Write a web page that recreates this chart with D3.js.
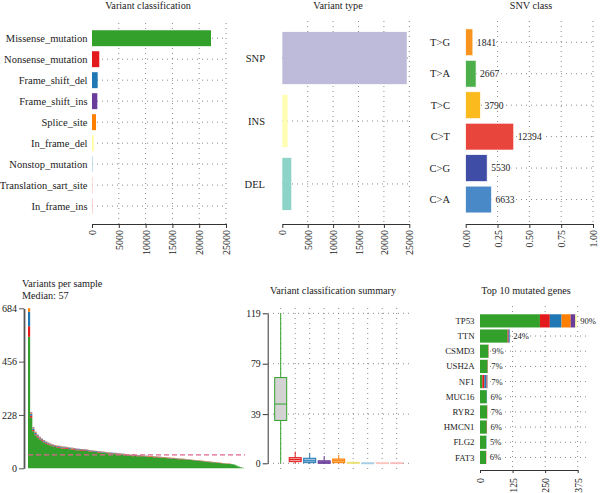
<!DOCTYPE html>
<html>
<head>
<meta charset="utf-8">
<script src="https://cdn.jsdelivr.net/npm/d3@7"></script>
<style>
  body { margin: 0; background: #fff; }
  svg { display: block; }
  svg text { font-family: 'Liberation Serif', 'DejaVu Serif', serif; }
</style>
</head>
<body>
<svg id="chart" width="600" height="493"></svg>
<script>
// ---- Data ----
const vcClasses = ['Missense_mutation', 'Nonsense_mutation', 'Frame_shift_del', 'Frame_shift_ins',
  'Splice_site', 'In_frame_del', 'Nonstop_mutation', 'Translation_sart_site', 'In_frame_ins'];
const vcCounts = [22200, 1360, 1060, 990, 750, 310, 30, 45, 25];
const vcTicks = [0, 5000, 10000, 15000, 20000, 25000];

const vtTypes = ['SNP', 'INS', 'DEL'];
const vtCounts = [24500, 1060, 1770];

const snvClasses = ['T>G', 'T>A', 'T>C', 'C>T', 'C>G', 'C>A'];
const snvCounts = [1841, 2667, 3790, 12394, 5530, 6633];
const snvTicks = [0, 0.25, 0.5, 0.75, 1];

// variants per sample, sorted (one step per sample group)
const sampleTotal = [684, 240, 175, 156, 145, 135, 127, 121, 115, 110,
  106, 103, 100, 98, 96, 94, 93, 92, 91, 89,
  88, 87, 85, 84, 83, 82, 81, 80, 78, 77,
  76, 75, 74, 73, 72, 71, 70, 69, 68, 67,
  66, 65, 64, 63, 62, 61, 60, 59, 58, 58,
  57, 57, 56, 55, 55, 54, 53, 53, 52, 51,
  50, 49, 48, 48, 47, 46, 45, 45, 44, 43,
  42, 42, 41, 40, 39, 38, 37, 36, 35, 34,
  33, 32, 31, 30, 29, 28, 27, 26, 25, 24,
  23, 22, 21, 20, 18, 16, 12, 8, 5, 2];
const sampleNonsense = [45, 9, 6, 5, 5, 4, 4, 4, 4, 3,
  3, 3, 3, 3, 3, 3, 3, 3, 3, 3,
  3, 3, 3, 3, 3, 3, 3, 2, 2, 2,
  2, 2, 2, 2, 2, 2, 2, 2, 2, 2,
  2, 2, 2, 2, 2, 2, 2, 2, 2, 2,
  2, 2, 2, 2, 2, 2, 2, 2, 2, 2,
  2, 1, 2, 1, 2, 1, 1, 2, 1, 1,
  1, 1, 1, 1, 1, 1, 1, 1, 1, 1,
  1, 1, 1, 1, 1, 1, 1, 1, 1, 1,
  1, 1, 1, 1, 0, 0, 0, 0, 0, 0];
const sampleFsDel = [62, 8, 6, 5, 4, 4, 4, 4, 3, 3,
  3, 3, 3, 3, 3, 3, 2, 3, 2, 3,
  2, 3, 2, 2, 3, 2, 2, 2, 2, 2,
  2, 2, 2, 2, 2, 2, 2, 2, 2, 2,
  2, 2, 1, 2, 2, 1, 2, 1, 2, 1,
  1, 2, 1, 1, 2, 1, 1, 1, 2, 1,
  1, 1, 1, 1, 1, 1, 1, 1, 1, 1,
  1, 1, 1, 1, 1, 1, 1, 1, 1, 1,
  1, 1, 1, 1, 1, 1, 1, 0, 1, 0,
  1, 0, 1, 0, 1, 0, 0, 0, 0, 0];
const sampleSplice = [15, 4, 3, 3, 2, 2, 2, 2, 2, 2,
  2, 2, 2, 2, 1, 2, 2, 1, 2, 1,
  2, 1, 2, 1, 1, 2, 1, 1, 1, 1,
  1, 1, 1, 1, 1, 1, 1, 1, 1, 1,
  1, 1, 1, 1, 1, 1, 1, 1, 1, 1,
  1, 1, 1, 1, 1, 1, 1, 1, 1, 1,
  1, 1, 1, 1, 1, 1, 1, 1, 1, 1,
  1, 1, 1, 1, 1, 1, 1, 1, 1, 1,
  1, 1, 1, 1, 1, 1, 0, 1, 0, 1,
  0, 1, 0, 1, 0, 0, 0, 0, 0, 0];
const sampleFsIns = [0, 3, 2, 2, 2, 2, 1, 1, 1, 1,
  1, 1, 1, 1, 1, 1, 1, 1, 1, 1,
  1, 1, 1, 1, 1, 1, 1, 1, 1, 1,
  1, 0, 1, 0, 1, 0, 1, 0, 1, 0,
  1, 0, 1, 0, 1, 0, 1, 0, 1, 0,
  1, 0, 1, 0, 0, 1, 0, 0, 1, 0,
  0, 1, 0, 0, 0, 1, 0, 0, 0, 1,
  0, 0, 0, 0, 1, 0, 0, 0, 0, 0,
  0, 0, 0, 0, 0, 0, 0, 0, 0, 0,
  0, 0, 0, 0, 0, 0, 0, 0, 0, 0];
const sampleMedian = 57;
const sampleTicks = [0, 228, 456, 684];

// variant classification summary (box stats per class, same order as vcClasses)
const boxLow  = [0, 0, 0, 0, 0, 0, 0, 0, 0];
const boxQ1   = [34, 1.3, 0.5, 0, 0.5, 0, 0, 0, 0];
const boxMed  = [47, 3, 2, 0.8, 2, 0.3, 0, 0, 0];
const boxQ3   = [68, 4.5, 4, 2, 3.4, 0.8, 0.3, 0.4, 0.4];
const boxHigh = [119, 9.3, 8, 5.8, 6.6, 1.5, 0.5, 0.6, 0.6];
const boxTicks = [0, 39, 79, 119];

// top 10 mutated genes
const genes = ['TP53', 'TTN', 'CSMD3', 'USH2A', 'NF1', 'MUC16', 'RYR2', 'HMCN1', 'FLG2', 'FAT3'];
const geneMissense   = [230, 106, 32, 29, 9, 26, 27, 26, 24, 23];
const geneNonsense   = [38, 4, 1, 1, 8, 0, 1, 1, 0, 1];
const geneFsDel      = [45, 4, 0, 0, 6, 1, 0, 0, 1, 0];
const geneSplice     = [35, 0, 0, 0, 2, 0, 0, 0, 0, 0];
const geneFsIns      = [18, 0, 0, 0, 4, 0, 0, 0, 0, 0];
const geneInFrameDel = [5, 0, 0, 0, 1, 0, 0, 0, 0, 0];
const genePct = ['90%', '24%', '9%', '7%', '7%', '6%', '7%', '6%', '5%', '6%'];
const geneTicks = [0, 125, 250, 375];

// ---- Styles ----
const FONT = "'Liberation Serif', 'DejaVu Serif', serif";
const TXT = '#222';
const GRID = '#8a8a8a';
const DOT = '1,4';
const vcColors = ['#33A02C', '#E31A1C', '#1F78B4', '#6A3D9A', '#FF7F00', '#FFFF99', '#A6CEE3', '#FDC5BF', '#F9BDBD'];
const boxFill = ['#D3D3D3', '#F5A3A3', '#9EC4E2', '#8E70B4', '#FDB472', '#FFFFCC', '#DCEBF5', '#FDD8D0', '#FAC9CC'];
const vtColors = ['#BEBADA', '#FFFFB3', '#8DD3C7'];
const snvColors = ['#F7941D', '#4DAF4A', '#FBBA1E', '#E8453C', '#3F4DA6', '#4A89C8'];
const layerColors = { mis: '#33A02C', non: '#E31A1C', del: '#1F78B4', spl: '#FF7F00', ins: '#6A3D9A', ifd: '#FFFF99' };

const svg = d3.select('#chart').style('font-family', FONT);
svg.append('rect').attr('width', 600).attr('height', 493).attr('fill', '#fff');

// ---- helpers ----
function vGrid(g, xs, y0, y1) {
  g.selectAll(null).data(xs).enter().append('line')
    .attr('x1', d => d).attr('x2', d => d).attr('y1', y0).attr('y2', y1)
    .attr('stroke', GRID).attr('stroke-width', 1).attr('stroke-dasharray', DOT);
}
function hGrid(g, ys, x0, x1) {
  g.selectAll(null).data(ys).enter().append('line')
    .attr('y1', d => d).attr('y2', d => d).attr('x1', x0).attr('x2', x1)
    .attr('stroke', GRID).attr('stroke-width', 1).attr('stroke-dasharray', DOT);
}
function styleAxis(g, color, fs) {
  g.attr('font-family', null).attr('font-size', fs || 10);
  g.select('.domain').attr('stroke', color || '#333');
  g.selectAll('.tick line').attr('stroke', color || '#333');
  g.selectAll('.tick text').attr('fill', TXT);
}
function rotLabels(g, gap) {
  g.selectAll('.tick text')
    .attr('transform', 'rotate(-90)')
    .attr('text-anchor', 'end')
    .attr('x', -gap).attr('y', 0).attr('dy', '0.35em');
}
function title(x, y, t, anchor) {
  svg.append('text').attr('x', x).attr('y', y).attr('text-anchor', anchor || 'middle')
    .attr('font-size', 10.2).attr('fill', TXT).text(t);
}
function catLabels(g, cats, y, xRight, fs) {
  g.selectAll(null).data(cats).enter().append('text')
    .attr('x', xRight).attr('y', d => y(d) + y.bandwidth() / 2).attr('dy', '0.35em')
    .attr('text-anchor', 'end').attr('font-size', fs).attr('fill', TXT).text(d => d);
}

// ---- Panel 1: Variant classification ----
{
  const g = svg.append('g');
  const x = d3.scaleLinear().domain([0, 25000]).range([92, 226]);
  const y = d3.scaleBand().domain(vcClasses).range([25.2, 219.1]).padding(0.24);
  vGrid(g, vcTicks.slice(1).map(x), 23, 224);
  hGrid(g, vcClasses.map(c => y(c) + y.bandwidth() / 2), 92, 226);
  g.selectAll('.bar').data(vcClasses).enter().append('rect')
    .attr('x', x(0)).attr('y', d => y(d))
    .attr('width', (d, i) => Math.max(0.6, x(vcCounts[i]) - x(0)))
    .attr('height', y.bandwidth()).attr('fill', (d, i) => vcColors[i]);
  catLabels(g, vcClasses, y, 87.5, 10.5);
  const ax = g.append('g').attr('transform', 'translate(0,224)')
    .call(d3.axisBottom(x).tickValues(vcTicks).tickFormat(d3.format('d')).tickSize(4).tickSizeOuter(0));
  styleAxis(ax); rotLabels(ax, 6);
  title(148, 9, 'Variant classification');
}

// ---- Panel 2: Variant type ----
{
  const g = svg.append('g');
  const x = d3.scaleLinear().domain([0, 25000]).range([282.3, 409.3]);
  const y = d3.scaleBand().domain(vtTypes).range([21.2, 220.8]).padding(0.17);
  vGrid(g, vcTicks.slice(1).map(x), 21, 224);
  hGrid(g, vtTypes.map(c => y(c) + y.bandwidth() / 2), 282, 409);
  g.selectAll('.bar').data(vtTypes).enter().append('rect')
    .attr('x', x(0)).attr('y', d => y(d))
    .attr('width', (d, i) => x(vtCounts[i]) - x(0))
    .attr('height', y.bandwidth()).attr('fill', (d, i) => vtColors[i]);
  catLabels(g, vtTypes, y, 265, 10.5);
  const ax = g.append('g').attr('transform', 'translate(0,224)')
    .call(d3.axisBottom(x).tickValues(vcTicks).tickFormat(d3.format('d')).tickSize(4).tickSizeOuter(0));
  styleAxis(ax); rotLabels(ax, 6);
  title(338, 9, 'Variant type');
}

// ---- Panel 3: SNV class ----
{
  const g = svg.append('g');
  const total = d3.sum(snvCounts);
  const x = d3.scaleLinear().domain([0, 1]).range([465.7, 593]);
  const y = d3.scaleBand().domain(snvClasses).range([24.2, 217.6]).padding(0.15);
  vGrid(g, snvTicks.slice(1).map(x), 21, 224);
  hGrid(g, snvClasses.map(c => y(c) + y.bandwidth() / 2), 466, 593);
  g.selectAll('.bar').data(snvClasses).enter().append('rect')
    .attr('x', x(0)).attr('y', d => y(d))
    .attr('width', (d, i) => x(snvCounts[i] / total) - x(0))
    .attr('height', y.bandwidth()).attr('fill', (d, i) => snvColors[i])
    .attr('stroke', '#fff').attr('stroke-width', 0.6);
  g.selectAll('.val').data(snvClasses).enter().append('text')
    .attr('x', (d, i) => x(snvCounts[i] / total) + 4)
    .attr('y', d => y(d) + y.bandwidth() / 2).attr('dy', '0.35em')
    .attr('font-size', 9.6).attr('fill', TXT)
    .attr('stroke', '#fff').attr('stroke-width', 3).attr('paint-order', 'stroke')
    .text((d, i) => snvCounts[i]);
  catLabels(g, snvClasses, y, 450, 10.5);
  const ax = g.append('g').attr('transform', 'translate(0,224)')
    .call(d3.axisBottom(x).tickValues(snvTicks).tickFormat(d3.format('.2f')).tickSize(4).tickSizeOuter(0));
  styleAxis(ax); rotLabels(ax, 6);
  title(531, 9, 'SNV class');
}

// ---- Panel 4: Variants per sample ----
{
  const g = svg.append('g');
  const n = sampleTotal.length;
  const rows = sampleTotal.map((t, i) => {
    const other = sampleNonsense[i] + sampleFsDel[i] + sampleSplice[i] + sampleFsIns[i];
    return { mis: t - other, non: sampleNonsense[i], del: sampleFsDel[i], spl: sampleSplice[i], ins: sampleFsIns[i] };
  });
  const keys = ['mis', 'non', 'del', 'spl', 'ins'];
  const stack = d3.stack().keys(keys)(rows);
  const x = d3.scaleBand().domain(d3.range(n)).range([28, 244]).padding(0);
  const y = d3.scaleLinear().domain([0, 684]).range([468.3, 308.3]);
  // stepped areas: one flat step per sample, no seams between bars
  const area = d3.area().curve(d3.curveStepAfter)
    .x(d => d.x).y0(d => y(d.v[0])).y1(d => y(d.v[1]));
  g.selectAll('.layer').data(stack).enter().append('path')
    .attr('fill', d => layerColors[d.key])
    .attr('d', d => {
      const pts = d.map((v, i) => ({ x: x(i), v: v }));
      pts.push({ x: x.range()[1], v: d[n - 1] });
      return area(pts);
    });
  g.append('line').attr('x1', 28).attr('x2', 245)
    .attr('y1', y(sampleMedian)).attr('y2', y(sampleMedian))
    .attr('stroke', '#E0668C').attr('stroke-width', 1.2).attr('stroke-dasharray', '5,3');
  const ax = g.append('g').attr('transform', 'translate(24,0)')
    .call(d3.axisLeft(y).tickValues(sampleTicks).tickSize(5).tickSizeOuter(0).tickPadding(2));
  styleAxis(ax, '#555');
  ax.select('.domain').attr('stroke-width', 1.8);
  title(22, 287, 'Variants per sample', 'start');
  title(22, 299, 'Median: ' + sampleMedian, 'start');
}

// ---- Panel 5: Variant classification summary ----
{
  const g = svg.append('g');
  const x = d3.scalePoint().domain(vcClasses).range([280.7, 396.7]);
  const y = d3.scaleLinear().domain([0, 119]).range([463.3, 313.3]);
  const bw = 12;
  const edge = i => vcColors[i] === '#FFFF99' ? '#EDE27A' : vcColors[i];
  vGrid(g, vcClasses.map(x), 308, 471);
  hGrid(g, boxTicks.map(y), 268, 410);
  const b = g.selectAll('.box').data(vcClasses).enter().append('g');
  b.append('line').attr('x1', d => x(d)).attr('x2', d => x(d))
    .attr('y1', (d, i) => y(boxLow[i])).attr('y2', (d, i) => y(boxHigh[i]))
    .attr('stroke', (d, i) => edge(i)).attr('stroke-width', 1);
  b.append('rect').attr('x', d => x(d) - bw / 2).attr('width', bw)
    .attr('y', (d, i) => y(boxQ3[i])).attr('height', (d, i) => Math.max(0.8, y(boxQ1[i]) - y(boxQ3[i])))
    .attr('fill', (d, i) => boxFill[i])
    .attr('stroke', (d, i) => edge(i)).attr('stroke-width', 1);
  b.append('line').attr('x1', d => x(d) - bw / 2).attr('x2', d => x(d) + bw / 2)
    .attr('y1', (d, i) => y(boxMed[i])).attr('y2', (d, i) => y(boxMed[i]))
    .attr('stroke', (d, i) => edge(i)).attr('stroke-width', 1);
  const ax = g.append('g').attr('transform', 'translate(267.7,0)')
    .call(d3.axisLeft(y).tickValues(boxTicks).tickSize(5).tickSizeOuter(0).tickPadding(2));
  styleAxis(ax, '#333', 9.8);
  title(333, 294, 'Variant classification summary');
}

// ---- Panel 6: Top 10 mutated genes ----
{
  const g = svg.append('g');
  const rows = genes.map((gname, i) => ({
    mis: geneMissense[i], non: geneNonsense[i], del: geneFsDel[i],
    spl: geneSplice[i], ins: geneFsIns[i], ifd: geneInFrameDel[i]
  }));
  const keys = ['mis', 'non', 'del', 'spl', 'ins', 'ifd'];
  const stack = d3.stack().keys(keys)(rows);
  const x = d3.scaleLinear().domain([0, 375]).range([480, 577.7]);
  const y = d3.scaleBand().domain(genes).range([312.3, 466]).padding(0.13);
  vGrid(g, geneTicks.slice(1).map(x), 306, 470);
  hGrid(g, genes.map(c => y(c) + y.bandwidth() / 2), 480, 589);
  g.selectAll('.layer').data(stack).enter().append('g')
    .attr('fill', d => layerColors[d.key])
    .selectAll('rect').data(d => d).enter().append('rect')
    .attr('x', d => x(d[0])).attr('width', d => x(d[1]) - x(d[0]))
    .attr('y', (d, i) => y(genes[i])).attr('height', y.bandwidth());
  g.selectAll('.pct').data(genes).enter().append('text')
    .attr('x', (d, i) => x(d3.sum(keys, k => rows[i][k])) + 3.5)
    .attr('y', d => y(d) + y.bandwidth() / 2).attr('dy', '0.35em')
    .attr('font-size', 8.6).attr('fill', TXT)
    .attr('stroke', '#fff').attr('stroke-width', 2.5).attr('paint-order', 'stroke')
    .text((d, i) => genePct[i]);
  catLabels(g, genes, y, 474.5, 8.8);
  const ax = g.append('g').attr('transform', 'translate(0,470)')
    .call(d3.axisBottom(x).tickValues(geneTicks).tickSize(3).tickSizeOuter(0));
  styleAxis(ax, '#333', 9.8); rotLabels(ax, 8);
  title(526, 294, 'Top 10 mutated genes');
}
</script>
</body>
</html>
